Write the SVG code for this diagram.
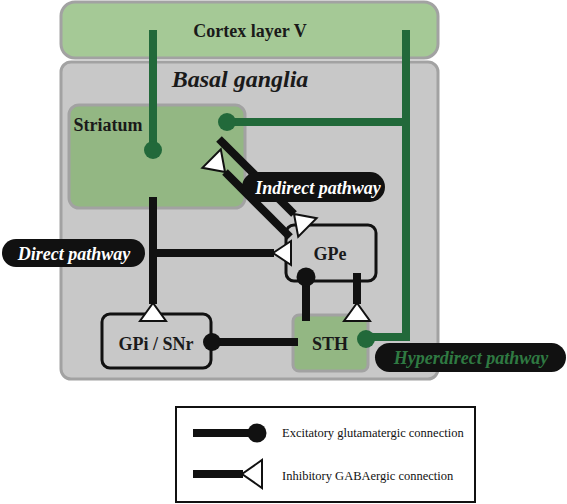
<svg xmlns="http://www.w3.org/2000/svg" width="567" height="504" viewBox="0 0 567 504">
<defs>
<style>
.region{stroke:#a2a2a2;stroke-width:3}
.nucleus{fill:none;stroke:#111;stroke-width:3}
.lbl{font-family:"Liberation Serif","Times New Roman",serif;font-weight:bold;font-size:18px;fill:#1a1a1a;text-anchor:middle}
.title{font-family:"Liberation Serif","Times New Roman",serif;font-weight:bold;font-style:italic;font-size:24px;fill:#1a1a1a;text-anchor:middle}
.pilltxt{font-family:"Liberation Serif","Times New Roman",serif;font-weight:bold;font-style:italic;font-size:18px;fill:#fff;text-anchor:middle}
.blk{stroke:#111;stroke-width:8;fill:none}
.grn{stroke:#22693a;stroke-width:8;fill:none}
.tri{fill:#fff;stroke:#111;stroke-width:2;stroke-linejoin:miter}
.legtxt{font-family:"Liberation Serif","Times New Roman",serif;font-size:12.5px;fill:#111}
</style>
</defs>
<rect width="567" height="504" fill="#fff"/>
<g id="cortex">
<rect class="region" x="61" y="2" width="377" height="56" rx="14" fill="#a5c996"/>
<text class="lbl" x="250" y="37">Cortex layer V</text>
</g>
<g id="basal-ganglia">
<rect class="region" x="61" y="62" width="377" height="317" rx="10" fill="#c8c8c8"/>
<text class="title" x="240" y="87">Basal ganglia</text>
</g>
<g id="striatum">
<rect class="region" x="69" y="105" width="176" height="103" rx="10" fill="#93b783" stroke="#8c8c8c"/>
<text class="lbl" x="108" y="131">Striatum</text>
</g>
<g id="sth">
<rect class="region" x="293" y="315" width="75" height="56" rx="6" fill="#93b783" stroke="#8c8c8c"/>
<text class="lbl" x="330" y="350">STH</text>
</g>
<g id="gpi-snr">
<rect class="nucleus" x="102" y="314" width="109" height="54" rx="8"/>
<text class="lbl" x="156" y="350">GPi / SNr</text>
</g>
<g id="gpe">
<rect class="nucleus" x="286" y="225" width="90" height="56" rx="8"/>
<text class="lbl" x="330" y="260">GPe</text>
</g>
<g id="connectors">
<path class="grn" d="M153,30 V150"/>
<circle cx="153" cy="150" r="9" fill="#22693a"/>
<path class="grn" d="M406,30 V337 H366"/>
<path class="grn" d="M406,122 H227"/>
<circle cx="227" cy="122" r="9" fill="#22693a"/>
<circle cx="366" cy="339" r="9" fill="#22693a"/>
<path class="blk" d="M153,197 V304"/>
<polygon class="tri" points="153,303 140,321 166,321"/>
<path class="blk" d="M153,253 H274"/>
<polygon class="tri" points="273,253 291,241 291,265"/>
<path class="blk" d="M219,139 L294,214"/>
<polygon class="tri" points="294,214 316.6,218.2 298.2,236.6"/>
<path class="blk" d="M225,172 L290,237"/>
<polygon class="tri" points="225,172 220.8,149.4 202.4,167.8"/>
<path class="blk" d="M306,277 V321"/>
<circle cx="306" cy="277" r="9.5" fill="#111"/>
<path class="blk" d="M357,273 V304"/>
<polygon class="tri" points="357,303 344,321 370,321"/>
<path class="blk" d="M212,342 H298"/>
<circle cx="212" cy="342" r="9" fill="#111"/>
</g>
<g id="label-indirect">
<rect x="242" y="172" width="143" height="30" rx="15" fill="#111"/>
<text class="pilltxt" x="318" y="194">Indirect pathway</text>
</g>
<g id="label-direct">
<rect x="2" y="239" width="143" height="28" rx="14" fill="#111"/>
<text class="pilltxt" x="74" y="260">Direct pathway</text>
</g>
<g id="label-hyperdirect">
<rect x="375" y="343" width="191" height="29" rx="14.5" fill="#111"/>
<text class="pilltxt" x="471" y="364" style="fill:#2f7a42">Hyperdirect pathway</text>
</g>
<g id="legend">
<rect x="176" y="407" width="299" height="95" fill="#fff" stroke="#111" stroke-width="2"/>
<path class="blk" d="M193,433 H252"/>
<circle cx="257" cy="433" r="9.5" fill="#111"/>
<text class="legtxt" x="282" y="437">Excitatory glutamatergic connection</text>
<path class="blk" d="M193,474 H243"/>
<polygon class="tri" points="242,474 262,460 262,488"/>
<text class="legtxt" x="282" y="480">Inhibitory GABAergic connection</text>
</g>
</svg>
